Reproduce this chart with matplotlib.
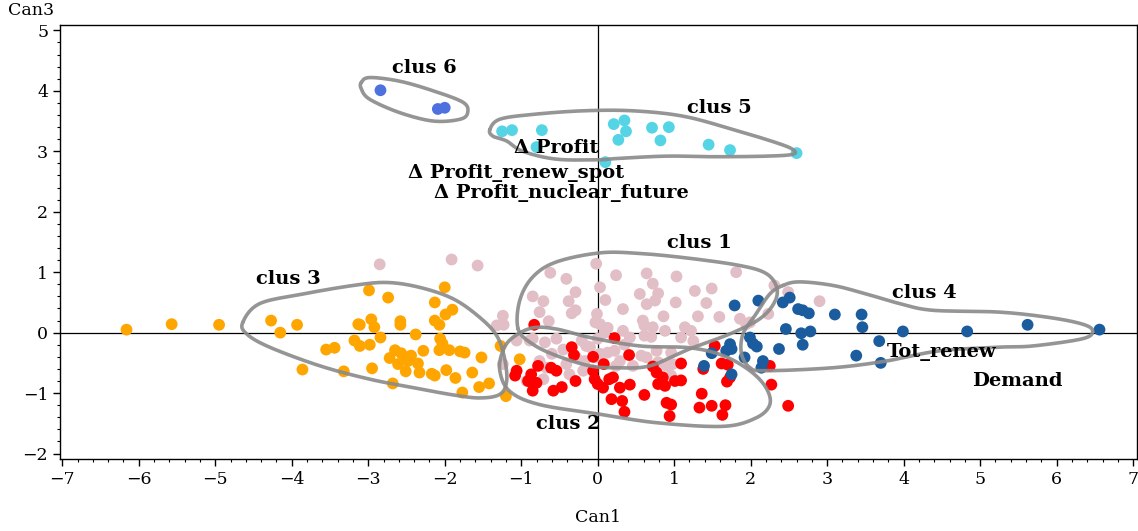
import numpy as np
import matplotlib
matplotlib.use("Agg")
import matplotlib.pyplot as plt
from matplotlib.ticker import MultipleLocator

plt.rcParams['font.family'] = ['DejaVu Serif']

# canonical scores per cluster (Can1, Can3)
clus3_x = [-6.16, -5.57, -4.95, -4.27, -4.15, -3.93, -3.55, -3.44, -3.86, -3.32, -3.13, -3.18,
           -2.99, -2.74, -2.00, -2.13, -1.90, -1.99, -2.13, -2.07, -2.58, -2.58, -2.96, -2.92,
           -3.11, -2.84, -2.38, -2.06, -2.03, -3.11, -2.98, -2.65, -2.72, -2.61, -2.57, -2.50,
           -2.44, -2.48, -2.28, -2.35, -2.33, -2.51, -2.07, -1.94, -1.80, -1.74, -1.52, -2.95,
           -2.17, -2.13, -1.98, -1.86, -1.64, -1.55, -1.42, -1.77, -2.68, -1.20, -1.27, -1.02]
clus3_y = [0.05, 0.14, 0.13, 0.20, 0.00, 0.13, -0.28, -0.25, -0.61, -0.64, 0.14, -0.13,
           0.70, 0.58, 0.75, 0.50, 0.38, 0.30, 0.20, 0.13, 0.19, 0.13, 0.22, 0.09,
           0.13, -0.08, -0.03, -0.10, -0.18, -0.22, -0.20, -0.29, -0.42, -0.52, -0.34, -0.41,
           -0.38, -0.47, -0.30, -0.51, -0.66, -0.64, -0.29, -0.29, -0.31, -0.33, -0.41, -0.59,
           -0.68, -0.71, -0.62, -0.75, -0.66, -0.90, -0.84, -0.99, -0.84, -1.05, -0.22, -0.44]

clus1_x = [-2.85, -1.91, -1.57, -1.24, -1.32, -1.23, -1.24, -0.02, -0.62, -0.41, 0.24, 0.64,
           0.72, 1.03, 1.81, -0.85, -0.71, -0.29, -0.38, 0.03, 0.10, 0.33, 0.55, 0.64,
           0.79, 0.75, 1.02, 1.27, 1.49, 1.42, -0.29, -0.34, -0.01, 0.59, 0.61, -0.64,
           -0.76, -0.03, 0.03, 0.13, 0.86, 1.31, 1.59, 1.86, 0.72, 0.88, 1.14, 1.22,
           1.09, 0.61, 0.70, 1.25, 0.33, 0.42, 0.09, -0.85, -0.89, -0.69, -0.54, -0.21,
           -0.15, -0.10, 0.13, 0.22, 0.29, 0.24, -0.76, -0.67, -0.41, -0.19, -0.17, -0.28,
           -0.02, 0.46, 0.57, 0.64, 0.77, 0.96, 0.79, 0.90, 0.98, 0.96, -0.37, -0.93,
           -0.71, 1.99, 2.23, 2.31, 2.49, 2.90, 1.94, -1.06, -0.45, -0.60, 0.00, 0.35, 0.03]
clus1_y = [1.13, 1.21, 1.11, 0.28, 0.12, 0.13, -0.52, 1.14, 0.99, 0.89, 0.95, 0.98,
           0.81, 0.93, 1.00, 0.60, 0.52, 0.67, 0.52, 0.75, 0.54, 0.39, 0.64, 0.47,
           0.65, 0.53, 0.50, 0.69, 0.73, 0.49, 0.37, 0.32, 0.31, 0.20, 0.12, 0.19,
           0.34, 0.17, 0.14, 0.08, 0.27, 0.27, 0.26, 0.23, 0.09, 0.03, 0.09, 0.03,
           -0.08, -0.05, -0.07, -0.14, 0.03, -0.08, 0.00, -0.10, -0.13, -0.16, -0.10, -0.13,
           -0.22, -0.24, -0.33, -0.30, -0.47, -0.55, -0.47, -0.58, -0.52, -0.63, -0.47, -0.41,
           -0.41, -0.55, -0.38, -0.41, -0.30, -0.33, -0.49, -0.55, -0.52, -0.71, -0.69, -0.80,
           -0.77, 0.17, 0.31, 0.78, 0.67, 0.52, 0.14, -0.13, -0.28, -0.35, -0.10, -0.20, -0.35]

clus2_x = [-0.83, 0.22, -0.34, -0.31, -0.06, 0.08, 0.41, -0.06, -0.04, 0.00, 0.07, 0.15,
           0.20, 0.29, 0.42, 0.61, 0.18, 0.32, 0.35, -0.29, -0.61, -0.54, -0.78, -1.06,
           -1.08, -0.87, -0.91, -0.80, -0.85, -0.58, -0.47, 0.72, 0.77, 1.09, 0.85, 0.79,
           0.88, 1.01, 1.09, 0.90, 0.96, 0.94, 1.36, 1.33, 1.49, 1.67, 1.63, 1.38,
           1.62, 1.70, 1.73, 1.69, 1.53, 2.25, 2.27, 2.49]
clus2_y = [0.13, -0.09, -0.24, -0.37, -0.40, -0.52, -0.37, -0.63, -0.77, -0.85, -0.91, -0.77,
           -0.74, -0.91, -0.86, -1.03, -1.10, -1.13, -1.31, -0.80, -0.58, -0.63, -0.55, -0.63,
           -0.71, -0.69, -0.80, -0.83, -0.96, -0.96, -0.90, -0.56, -0.66, -0.51, -0.74, -0.85,
           -0.88, -0.80, -0.79, -1.16, -1.19, -1.38, -1.01, -1.24, -1.21, -1.20, -1.36, -0.60,
           -0.51, -0.53, -0.74, -0.81, -0.22, -0.55, -0.86, -1.21]

clus4_x = [1.79, 2.10, 2.42, 2.51, 2.62, 2.68, 2.76, 3.10, 3.45, 3.46, 2.46, 2.66,
           2.78, 3.99, 4.83, 5.62, 6.56, 3.68, 3.38, 3.70, 2.68, 2.37, 1.99, 2.03,
           2.08, 1.73, 1.75, 1.68, 1.49, 1.92, 2.16, 2.14, 1.75, 1.39]
clus4_y = [0.45, 0.53, 0.50, 0.58, 0.39, 0.37, 0.32, 0.30, 0.30, 0.09, 0.06, -0.01,
           0.02, 0.02, 0.02, 0.13, 0.05, -0.14, -0.38, -0.50, -0.20, -0.27, -0.08, -0.18,
           -0.23, -0.19, -0.27, -0.30, -0.34, -0.41, -0.47, -0.58, -0.69, -0.55]

clus5_x = [-1.25, -1.12, -0.73, 0.21, 0.35, 0.37, 0.27, 0.71, 0.93, 0.82, 1.45, 1.73, 2.60, 0.10, -0.80]
clus5_y = [3.33, 3.35, 3.35, 3.45, 3.51, 3.33, 3.19, 3.39, 3.40, 3.18, 3.11, 3.02, 2.97, 2.82, 3.07]

clus6_x = [-2.84, -2.09, -2.00]
clus6_y = [4.01, 3.70, 3.72]

# outline vertices of the cluster contours
hull1 = [(-1.04, 0.06), (-1.02, 0.53), (-0.85, 0.92), (-0.54, 1.17), (0.03, 1.32), (0.55, 1.31),
         (1.20, 1.23), (1.86, 1.11), (2.20, 0.98), (2.34, 0.75), (2.31, 0.50), (2.12, 0.23),
         (1.73, -0.02), (1.20, -0.27), (0.68, -0.55), (0.24, -0.58), (-0.10, -0.55),
         (-0.54, -0.38), (-0.85, -0.19)]
hull2 = [(-1.24, -0.30), (-1.11, -0.08), (-0.85, 0.08), (-0.54, 0.06), (-0.10, -0.08),
         (0.55, -0.22), (1.20, -0.25), (1.64, -0.38), (1.99, -0.63), (2.20, -0.91),
         (2.25, -1.19), (2.07, -1.41), (1.64, -1.55), (0.77, -1.49), (0.03, -1.35),
         (-0.76, -1.19), (-1.15, -0.97), (-1.28, -0.63)]
hull3 = [(-4.64, 0.17), (-4.42, 0.48), (-3.85, 0.64), (-3.20, 0.78), (-2.76, 0.83), (-2.33, 0.75),
         (-1.89, 0.56), (-1.54, 0.25), (-1.32, -0.05), (-1.22, -0.41), (-1.19, -0.80),
         (-1.28, -1.02), (-1.54, -1.08), (-1.89, -1.03), (-2.41, -0.91), (-2.98, -0.77),
         (-3.63, -0.55), (-4.29, -0.24), (-4.59, -0.02)]
hull4 = [(2.42, 0.78), (2.64, 0.84), (3.08, 0.78), (3.51, 0.64), (3.95, 0.48), (4.38, 0.37),
         (5.25, 0.34), (5.91, 0.25), (6.34, 0.14), (6.47, 0.03), (6.34, -0.10), (5.69, -0.22),
         (5.25, -0.24), (4.47, -0.30), (3.77, -0.47), (3.08, -0.58), (2.20, -0.63),
         (1.99, -0.58), (1.88, -0.35), (1.90, -0.02), (2.07, 0.31), (2.25, 0.64)]
hull5 = [(-1.41, 3.36), (-1.28, 3.53), (-0.85, 3.61), (-0.19, 3.67), (0.46, 3.67), (1.12, 3.58),
         (1.77, 3.36), (2.34, 3.14), (2.55, 3.03), (2.55, 2.95), (2.21, 2.92), (1.55, 2.91),
         (0.90, 2.92), (0.24, 2.88), (0.03, 2.86), (-0.54, 2.87), (-0.98, 3.00),
         (-1.19, 3.17), (-1.37, 3.25)]
hull6 = [(-3.09, 4.14), (-2.98, 4.22), (-2.59, 4.16), (-2.15, 4.00), (-1.76, 3.81), (-1.70, 3.64),
         (-1.80, 3.53), (-2.15, 3.50), (-2.59, 3.64), (-2.98, 3.86), (-3.09, 4.03)]

clus_labels = ["clus 1", "clus 2", "clus 3", "clus 4", "clus 5", "clus 6"]
clus_label_pos = [(1.33, 1.48), (-0.39, -1.51), (-4.05, 0.88), (4.27, 0.65), (1.59, 3.72), (-2.26, 4.37)]

var_labels = ["\u0394 Profit", "\u0394 Profit_renew_spot", "\u0394 Profit_nuclear_future", "Tot_renew", "Demand"]
var_label_pos = [(-0.54, 3.06), (-1.07, 2.64), (-0.48, 2.31), (4.5, -0.32), (5.48, -0.80)]


def smooth_closed(pts, n=20):
  # periodic catmull-rom through the outline vertices
  p = np.array(pts)
  out = []
  m = len(p)
  for i in range(m):
    p0, p1, p2, p3 = p[i - 1], p[i], p[(i + 1) % m], p[(i + 2) % m]
    for t in np.linspace(0, 1, n, endpoint=False):
      t2 = t * t
      t3 = t2 * t
      out.append(0.5 * (2 * p1 + (-p0 + p2) * t + (2 * p0 - 5 * p1 + 4 * p2 - p3) * t2
                        + (-p0 + 3 * p1 - 3 * p2 + p3) * t3))
  out.append(out[0])
  return np.array(out)


fig = plt.figure(figsize=(11.38, 5.31), dpi=100)
ax = fig.add_axes([0.0527, 0.1356, 0.9464, 0.8174])

ax.axhline(0, color="black", lw=0.9, zorder=1)
ax.axvline(0, color="black", lw=0.9, zorder=1)

dot = 72
ax.scatter(clus1_x, clus1_y, s=dot, color="#e2bec6", edgecolors="none", zorder=2)
ax.scatter(clus3_x, clus3_y, s=dot, color="#ffa500", edgecolors="none", zorder=3)
ax.scatter(clus2_x, clus2_y, s=dot, color="#ff0000", edgecolors="none", zorder=3)
ax.scatter(clus4_x, clus4_y, s=dot, color="#1a5c9e", edgecolors="none", zorder=3)
ax.scatter(clus5_x, clus5_y, s=dot, color="#55d4e6", edgecolors="none", zorder=3)
ax.scatter(clus6_x, clus6_y, s=dot, color="#4d72e0", edgecolors="none", zorder=3)

for h in [hull1, hull2, hull3, hull4, hull5, hull6]:
  c = smooth_closed(h)
  ax.plot(c[:, 0], c[:, 1], color="#8a8a8a", lw=2.6, alpha=0.9, zorder=4, solid_capstyle="round")

for lab, (lx, ly) in zip(clus_labels, clus_label_pos):
  ax.text(lx, ly, lab, fontsize=14, fontweight="bold", ha="center", va="center", zorder=5)
for lab, (lx, ly) in zip(var_labels, var_label_pos):
  ax.text(lx, ly, lab, fontsize=14, fontweight="bold", ha="center", va="center", zorder=5)

ax.set_xlim(-7.03, 7.05)
ax.set_ylim(-2.09, 5.09)
ax.xaxis.set_major_locator(MultipleLocator(1))
ax.yaxis.set_major_locator(MultipleLocator(1))
ax.xaxis.set_minor_locator(MultipleLocator(0.2))
ax.yaxis.set_minor_locator(MultipleLocator(0.2))
ax.tick_params(which="major", direction="out", length=5, width=1, labelsize=12.5)
ax.tick_params(which="minor", direction="out", length=2.5, width=0.8)
for sp in ax.spines.values():
  sp.set_linewidth(1)

fig.text(0.5255, 0.026, "Can1", fontsize=12.5, ha="center", va="center")
fig.text(0.007, 0.981, "Can3", fontsize=12.5, ha="left", va="center")

fig.savefig("out.png", dpi=100)
